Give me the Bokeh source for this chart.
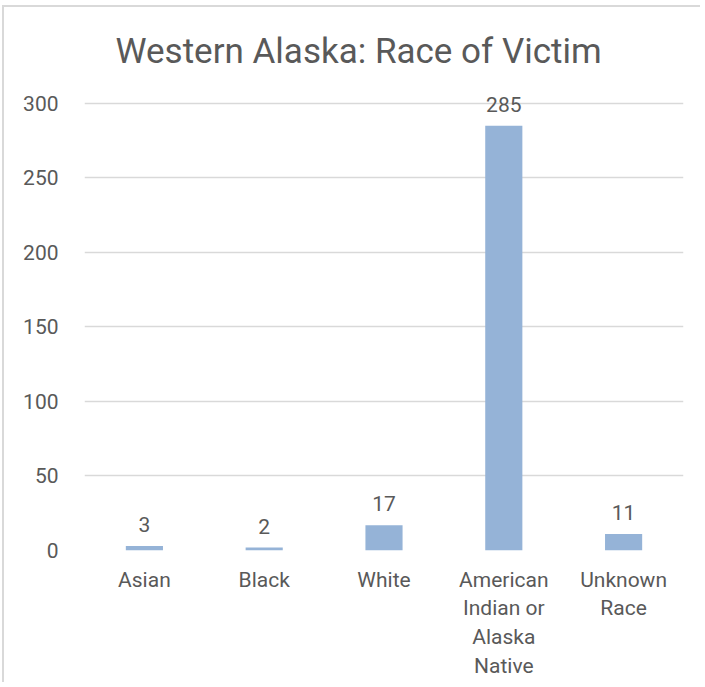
from bokeh.plotting import figure
from bokeh.models import ColumnDataSource, LabelSet, Range1d, FactorRange
from bokeh.core.properties import value
from bokeh.embed import file_html
from bokeh.resources import INLINE

categories = ["Asian", "Black", "White", "American\nIndian or\nAlaska\nNative", "Unknown\nRace"]
victims = [3, 2, 17, 285, 11]
y_ticks = [0, 50, 100, 150, 200, 250, 300]

FONT = "Roboto"
TEXT = "#595959"

source = ColumnDataSource(dict(cat=categories, val=victims, lbl=[str(v) for v in victims]))

p = figure(x_range=FactorRange(*categories), y_range=Range1d(0, 310),
           width=698, height=677, output_backend="svg", toolbar_location=None,
           title="Western Alaska: Race of Victim",
           min_border_left=80, min_border_right=19, min_border_bottom=134,
           min_border_top=81)

p.vbar(x="cat", top="val", width=0.31, source=source, color="#95B3D7", line_color=None)

labels = LabelSet(x="cat", y="val", text="lbl", source=source, text_align="center",
                  text_baseline="bottom", y_offset=14, text_font_size="21px",
                  text_color=TEXT, text_font=value(FONT), level="overlay")
p.add_layout(labels)

p.title.text_font = FONT
p.title.text_font_size = "35px"
p.title.text_font_style = "normal"
p.title.text_color = TEXT
p.title.align = "left"
p.title.offset = 31
p.title.standoff = 34
p.title.background_fill_color = None

p.outline_line_color = None
p.background_fill_color = "white"
p.border_fill_color = "white"

p.xgrid.grid_line_color = None
p.ygrid.grid_line_color = "#D9D9D9"
p.ygrid.grid_line_width = 1.5
p.ygrid.ticker = y_ticks
p.yaxis.ticker = y_ticks

for ax in (p.xaxis[0], p.yaxis[0]):
    ax.axis_line_color = None
    ax.major_tick_line_color = None
    ax.minor_tick_line_color = None
    ax.major_label_text_font = FONT
    ax.major_label_text_font_size = "21px"
    ax.major_label_text_color = TEXT

p.xaxis.major_label_text_line_height = 1.2
p.yaxis.major_label_standoff = 20
p.xaxis.major_label_standoff = 11
p.x_range.range_padding = 0
p.x_range.group_padding = 0
p.x_range.factor_padding = 0

p.styles = {"border-left": "2px solid #D9D9D9", "border-top": "2px solid #D9D9D9",
            "margin-left": "2px", "margin-top": "5px"}

open("out.html", "w").write(file_html(p, INLINE))
